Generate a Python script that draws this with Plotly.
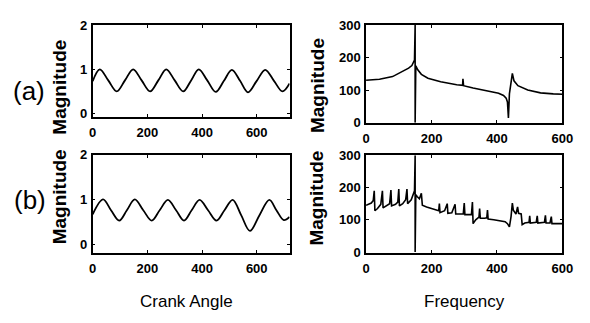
import plotly.graph_objects as go

# ---- data ----
# (a) time signal: crank angle vs magnitude
angle_a = [0, 26, 57, 88, 118, 148, 179, 210, 240, 269, 300, 331, 360, 388, 419, 450,
           480, 509, 539, 568, 600, 631, 663, 694, 720]
mag_a = [0.73, 1.0, 0.75, 0.5, 0.75, 1.0, 0.75, 0.5, 0.75, 1.0, 0.75, 0.5, 0.75, 1.0, 0.75, 0.49,
         0.74, 0.99, 0.74, 0.48, 0.74, 0.99, 0.74, 0.5, 0.68]

# (b) time signal
angle_b = [0, 38, 67, 97, 125, 154, 185, 216, 245, 275, 305, 334, 362, 391, 422, 453,
           482, 512, 543, 575, 610, 646, 672, 699, 720]
mag_b = [0.68, 1.01, 0.77, 0.54, 0.77, 1.01, 0.77, 0.54, 0.77, 1.0, 0.77, 0.54, 0.77, 1.0, 0.77, 0.54,
         0.77, 1.0, 0.66, 0.31, 0.66, 1.0, 0.77, 0.55, 0.62]

# (a) spectrum
freq_a = [0, 41, 81, 110, 130, 140, 145, 148, 150, 150, 152, 158, 169, 189, 228, 277, 295, 296, 298,
          327, 376, 405, 420, 428, 432, 435, 438, 443, 447, 452, 464, 494, 533, 572, 600]
spec_a = [131, 134, 142, 156, 168, 176, 184, 193, 300, 0, 175, 163, 149, 137, 126, 117, 115, 135, 114,
          107, 97, 91, 84, 76, 64, 15, 89, 129, 152, 129, 114, 101, 92, 89, 88]

# (b) spectrum
freq_b = [0, 8, 16, 22, 25, 27, 35, 45, 50, 52, 62, 72, 76, 78, 90, 97, 100, 102, 112, 121, 125, 127,
          138, 145, 148, 150, 150, 152, 156, 163, 169, 172, 185, 200, 215, 222, 224, 226, 240, 248, 250,
          262, 272, 274, 288, 297, 300, 302, 315, 322, 325, 327, 335, 345, 347, 349, 362, 369, 371, 373,
          390, 410, 425, 432, 438, 443, 447, 450, 458, 463, 466, 474, 477, 485, 498, 500, 502, 520, 523,
          525, 545, 548, 550, 562, 566, 568, 585, 600]
spec_b = [145, 148, 152, 160, 190, 128, 135, 148, 190, 137, 143, 150, 192, 143, 148, 155, 195, 143, 150, 162, 195, 150,
          162, 178, 190, 300, 0, 178, 172, 165, 182, 145, 140, 135, 130, 128, 150, 122, 128, 150, 120,
          122, 148, 118, 118, 118, 152, 116, 116, 116, 155, 88, 100, 108, 135, 105, 105, 106, 130, 102,
          100, 96, 94, 88, 78, 110, 152, 130, 118, 140, 120, 118, 85, 90, 92, 112, 90, 92, 112,
          90, 92, 114, 90, 90, 110, 88, 88, 88]

left_xticks = [0, 200, 400, 600]
left_yticks = [0, 1, 2]
right_xticks = [0, 200, 400, 600]
right_yticks = [0, 100, 200, 300]

FONT = "Liberation Sans, Arial, sans-serif"
W, H = 590, 323

fig = go.Figure()
line = dict(color="black", width=1.8)
fig.add_trace(go.Scatter(x=angle_a, y=mag_a, mode="lines", line=dict(line, shape="spline", smoothing=1.0),
                         xaxis="x", yaxis="y"))
fig.add_trace(go.Scatter(x=freq_a, y=spec_a, mode="lines", line=dict(color="black", width=1.6),
                         xaxis="x2", yaxis="y2"))
fig.add_trace(go.Scatter(x=angle_b, y=mag_b, mode="lines", line=dict(line, shape="spline", smoothing=1.0),
                         xaxis="x3", yaxis="y3"))
fig.add_trace(go.Scatter(x=freq_b, y=spec_b, mode="lines", line=dict(color="black", width=1.6),
                         xaxis="x4", yaxis="y4"))


def px_x(a, b):
    return [a / W, b / W]


def px_y(top, bottom):
    return [1 - bottom / H, 1 - top / H]


tickfont = dict(family=FONT, size=13, color="black", weight=700)
common = dict(showline=True, linecolor="black", linewidth=1.6, mirror="ticks", ticks="inside",
              ticklen=3, tickwidth=1, tickcolor="black", showgrid=False, zeroline=False,
              tickfont=tickfont, fixedrange=True)

layout_axes = dict(
    xaxis=dict(common, domain=px_x(91, 293), range=[0, 720], tickvals=left_xticks, anchor="y",
               ticklabelstandoff=3),
    yaxis=dict(common, domain=px_y(19, 115), range=[-0.07, 2], tickvals=left_yticks, anchor="x",
               ticklabelstandoff=1),
    xaxis2=dict(common, domain=px_x(371.5, 573), range=[0, 600], tickvals=right_xticks, anchor="y2",
                ticklabelstandoff=3),
    yaxis2=dict(common, domain=px_y(19, 121.5), range=[0, 300], tickvals=right_yticks, anchor="x2",
                ticklabelstandoff=1),
    xaxis3=dict(common, domain=px_x(91, 293), range=[0, 720], tickvals=left_xticks, anchor="y3",
                ticklabelstandoff=3),
    yaxis3=dict(common, domain=px_y(155, 258), range=[-0.18, 2], tickvals=left_yticks, anchor="x3",
                ticklabelstandoff=1),
    xaxis4=dict(common, domain=px_x(371.5, 573), range=[0, 600], tickvals=right_xticks, anchor="y4",
                ticklabelstandoff=3),
    yaxis4=dict(common, domain=px_y(155.5, 258), range=[-3, 300], tickvals=right_yticks, anchor="x4",
                ticklabelstandoff=1),
)


def ann(text, x, y, size, angle=0, weight=400):
    return dict(text=text, x=x / W, y=1 - y / H, xref="paper", yref="paper", showarrow=False,
                textangle=angle, xanchor="center", yanchor="middle",
                font=dict(family=FONT, size=size, color="black", weight=weight))


annotations = [
    ann("(a)", 26, 88, 26),
    ann("(b)", 27, 202, 26),
    ann("Magnitude", 57, 84, 19, -90, 700),
    ann("Magnitude", 57, 199, 19, -90, 700),
    ann("Magnitude", 321, 82, 19, -90, 700),
    ann("Magnitude", 321, 200, 19, -90, 700),
    ann("Crank Angle", 187, 309, 17),
    ann("Frequency", 472, 309, 17),
]

fig.update_layout(
    width=W, height=H, margin=dict(l=0, r=0, t=0, b=0),
    paper_bgcolor="white", plot_bgcolor="white", showlegend=False,
    annotations=annotations, **layout_axes,
)

fig.write_html("out.html", config={"displayModeBar": False})
